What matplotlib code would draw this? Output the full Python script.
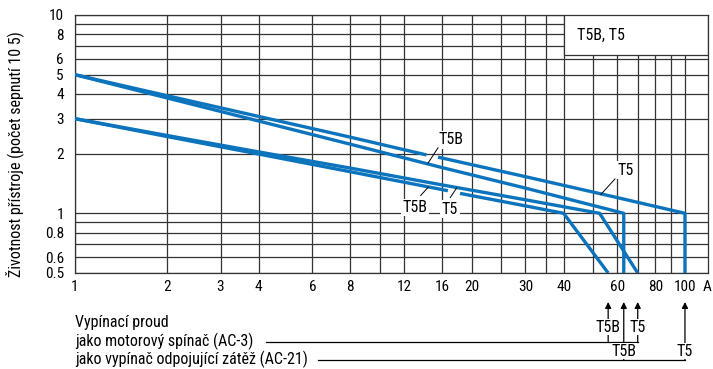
import matplotlib.pyplot as plt
from matplotlib.patches import Rectangle

plt.rcParams['font.family'] = ['DejaVu Sans Condensed', 'Roboto Condensed', 'Liberation Sans', 'DejaVu Sans']
plt.rcParams['font.size'] = 11.5

# --- data ---
x_ticks = [1, 2, 3, 4, 6, 8, 12, 16, 20, 30, 40, 60, 80, 100]
x_tick_labels = ['1', '2', '3', '4', '6', '8', '12', '16', '20', '30', '40', '60', '80', '100']
y_ticks = [0.5, 0.6, 0.8, 1, 2, 3, 4, 5, 6, 8, 10]
y_tick_labels = ['0.5', '0.6', '0.8', '1', '2', '3', '4', '5', '6', '8', '10']
x_grid = [1, 2, 3, 4, 6, 8, 10, 12, 16, 20, 25, 30, 35, 40, 50, 60, 70, 80, 90, 100]
y_grid = [0.5, 0.6, 0.7, 0.8, 0.9, 1, 2, 3, 4, 5, 6, 7, 8, 9, 10]

# breaking currents (A)
ac3_t5b, ac3_t5 = 56, 70
ac21_t5b, ac21_t5 = 63, 100

# AC-21 curves
t5_ac21_x1 = [1, 2, 4, 8, 14.2]
t5_ac21_y1 = [5.0, 3.92, 3.08, 2.42, 1.97]
t5_ac21_x2 = [15.5, 30, 60, ac21_t5, ac21_t5]
t5_ac21_y2 = [1.92, 1.53, 1.2, 1.0, 0.5]

t5b_ac21_x = [1, 2, 4, 8, 16, 30, ac21_t5b, ac21_t5b]
t5b_ac21_y = [5.0, 3.82, 2.92, 2.23, 1.70, 1.34, 1.0, 0.5]

# AC-3 curves
t5_ac3_x = [1, 2, 4, 8, 16, 30, 52.5, ac3_t5]
t5_ac3_y = [3.0, 2.47, 2.04, 1.69, 1.39, 1.17, 1.0, 0.5]

t5b_ac3_x1 = [1, 2, 4, 8, 16.7]
t5b_ac3_y1 = [3.0, 2.44, 1.99, 1.62, 1.30]
t5b_ac3_x2 = [18.3, 30, 40, ac3_t5b]
t5b_ac3_y2 = [1.26, 1.09, 1.0, 0.5]

blue = '#0b74bd'
gridc = '#333333'

fig = plt.figure(figsize=(7.13, 3.69), dpi=100)
ax = fig.add_axes([75 / 713, 96 / 369, 633 / 713, 258 / 369])
ax.set_xscale('log')
ax.set_yscale('log')
ax.set_xlim(1, 119)
ax.set_ylim(0.5, 10)

for xv in x_grid:
    ax.axvline(xv, color=gridc, lw=0.9, zorder=1)
for yv in y_grid:
    ax.axhline(yv, color=gridc, lw=0.9, zorder=1)

ax.set_xticks(x_ticks)
ax.set_xticklabels(x_tick_labels)
ax.set_yticks(y_ticks)
ax.set_yticklabels(y_tick_labels)
ax.minorticks_off()
ax.tick_params(axis='x', length=0, pad=5, labelsize=11)
ax.tick_params(axis='y', length=0, pad=8, labelsize=11)
for s in ax.spines.values():
    s.set_color(gridc)
    s.set_linewidth(0.9)

ax.text(118, -0.027, 'A', transform=ax.get_xaxis_transform(), ha='center', va='top', fontsize=11)

fig.text(15 / 713, 1 - 154 / 369, 'Životnost přístroje (počet sepnutí 10 5)',
         rotation=90, ha='center', va='center', fontsize=11.5)

# legend box
trans = ax.get_xaxis_transform()
ax.add_patch(Rectangle((40, 0.845), 79, 0.2, transform=trans, facecolor='white',
                       edgecolor=gridc, lw=0.9, zorder=2))
ax.text(44.2, 0.922, 'T5B, T5', transform=trans, ha='left', va='center', fontsize=11.5, zorder=3)

# curves
kw = dict(color=blue, lw=2.4, solid_capstyle='butt', zorder=4)
ax.plot(t5_ac21_x1, t5_ac21_y1, **kw)
ax.plot(t5_ac21_x2, t5_ac21_y2, **kw)
ax.plot(t5b_ac21_x, t5b_ac21_y, **kw)
ax.plot(t5_ac3_x, t5_ac3_y, **kw)
ax.plot(t5b_ac3_x1, t5b_ac3_y1, **kw)
ax.plot(t5b_ac3_x2, t5b_ac3_y2, **kw)

# curve labels with leaders
box = dict(facecolor='white', edgecolor='none', pad=1)
lead = dict(color='black', lw=0.7, zorder=5)
ax.text(17.1, 2.35, 'T5B', ha='center', va='center', bbox=box, zorder=3)
ax.plot([15.5, 14.37], [2.14, 1.79], **lead)
ax.text(64.1, 1.65, 'T5', ha='center', va='center', bbox=box, zorder=3)
ax.plot([58.96, 53.0], [1.49, 1.245], **lead)
ax.text(13.0, 1.07, 'T5B', ha='center', va='center', bbox=box, zorder=3)
ax.plot([13.6, 14.4], [1.23, 1.355], **lead)
ax.text(16.96, 1.05, 'T5', ha='center', va='center', bbox=box, zorder=3)
ax.plot([17.0, 17.84], [1.2, 1.343], **lead)


# --- breaking current annotation below the chart ---
def yf(px):
    return (273 - px) / 258


line_kw = dict(color='black', lw=0.9, transform=trans, clip_on=False)
arr = dict(arrowstyle='-|>', color='black', lw=0.9, mutation_scale=9, shrinkA=0, shrinkB=0)

ax.text(1, yf(323), 'Vypínací proud', transform=trans, ha='left', va='center')
ax.text(1, yf(341), 'jako motorový spínač (AC-3)', transform=trans, ha='left', va='center')
ax.text(1, yf(359), 'jako vypínač odpojující zátěž (AC-21)', transform=trans, ha='left', va='center')

ax.plot([4.23, ac3_t5], [yf(341.7), yf(341.7)], **line_kw)
ax.plot([6.26, ac21_t5], [yf(360), yf(360)], **line_kw)

for xv, ybase in [(ac3_t5b, 341.7), (ac3_t5, 341.7), (ac21_t5b, 360), (ac21_t5, 360)]:
    ax.annotate('', xy=(xv, yf(302)), xycoords=trans, xytext=(xv, yf(ybase)),
                textcoords=trans, arrowprops=arr, annotation_clip=False)

lbox = dict(facecolor='white', edgecolor='none', pad=0.5)
ax.text(ac3_t5b, yf(327), 'T5B', transform=trans, ha='center', va='center', bbox=lbox)
ax.text(ac3_t5, yf(327), 'T5', transform=trans, ha='center', va='center', bbox=lbox)
ax.text(ac21_t5b, yf(351), 'T5B', transform=trans, ha='center', va='center', bbox=lbox)
ax.text(ac21_t5, yf(351), 'T5', transform=trans, ha='center', va='center', bbox=lbox)

fig.savefig('out.png', dpi=100)
